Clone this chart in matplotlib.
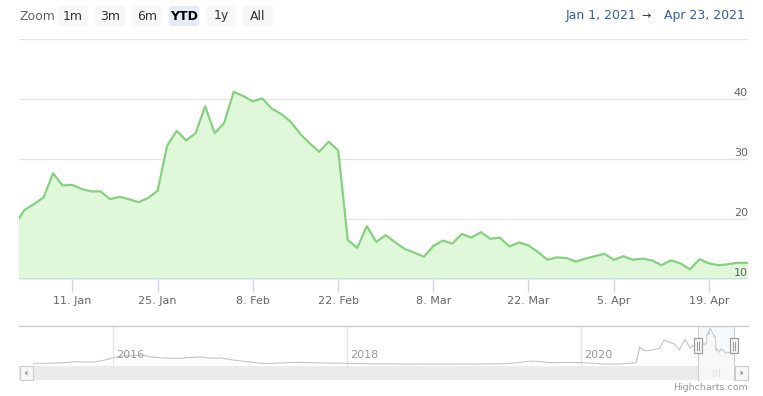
import numpy as np
import pandas as pd
import matplotlib
matplotlib.use("Agg")
import matplotlib.pyplot as plt
from matplotlib.patches import Rectangle, FancyBboxPatch

# daily closes, Dec 31 2020 .. Apr 23 2021 (trading days only)
holidays = ["2021-01-01", "2021-01-18", "2021-02-15", "2021-04-02"]
close = [19.1,
         21.5, 22.5, 23.6, 27.6, 25.6, 25.7, 25.0, 24.6, 24.6, 23.3, 23.7, 23.3, 22.8, 23.5, 24.7,
         32.2, 34.7, 33.1, 34.3, 38.8, 34.3, 36.0, 41.2, 40.5, 39.6, 40.1, 38.4, 37.5, 36.2, 34.2,
         32.6, 31.2, 32.9, 31.4,
         16.5, 15.2, 18.8, 16.2,
         17.3, 16.1, 15.0, 14.4, 13.7, 15.5, 16.4, 15.9, 17.5, 16.9, 17.8, 16.7, 16.9, 15.4, 16.1,
         15.6, 14.5, 13.2, 13.6, 13.5, 12.9, 13.4, 13.8, 14.2, 13.2, 13.8, 13.2, 13.4, 13.1, 12.3,
         13.1, 12.6, 11.6, 13.3, 12.6, 12.3, 12.45, 12.7, 12.7]
tick_dates = ["2021-01-11", "2021-01-25", "2021-02-08", "2021-02-22",
              "2021-03-08", "2021-03-22", "2021-04-05", "2021-04-19"]
y_ticks = [10, 20, 30, 40]

# longer history for the navigator (rough, read off the small strip)
nav_dates = ["2015-04-28", "2015-06-01", "2015-07-01", "2015-08-01", "2015-09-01", "2015-10-01",
             "2015-11-01", "2015-12-01", "2016-01-01", "2016-02-01", "2016-03-01", "2016-04-01",
             "2016-05-01", "2016-06-01", "2016-07-01", "2016-08-01", "2016-09-01", "2016-10-01",
             "2016-11-01", "2016-12-01", "2017-01-01", "2017-02-01", "2017-03-01", "2017-04-01",
             "2017-05-01", "2017-06-01", "2017-07-01", "2017-08-01", "2017-09-01", "2017-10-01",
             "2017-11-01", "2017-12-01", "2018-01-01", "2018-02-01", "2018-03-01", "2018-04-01",
             "2018-05-01", "2018-06-01", "2018-07-01", "2018-08-01", "2018-09-01", "2018-10-01",
             "2018-11-01", "2018-12-01", "2019-01-01", "2019-02-01", "2019-03-01", "2019-04-01",
             "2019-05-01", "2019-06-01", "2019-07-01", "2019-08-01", "2019-09-01", "2019-10-01",
             "2019-11-01", "2019-12-01", "2020-01-01", "2020-02-01", "2020-03-01", "2020-04-01",
             "2020-05-01", "2020-06-01", "2020-06-20", "2020-07-01", "2020-07-15", "2020-08-01",
             "2020-08-15", "2020-09-01", "2020-09-15", "2020-10-01", "2020-10-15", "2020-11-01",
             "2020-11-20", "2020-12-05", "2020-12-15"]
nav_values = [1.3, 1.3, 1.5, 2.0, 3.0, 2.8,
              2.7, 4.5, 7.5, 9.5, 10.0, 10.5,
              8.5, 7.5, 7.0, 7.0, 8.0, 8.5,
              7.0, 7.5, 5.5, 4.0, 3.0, 1.5,
              1.0, 1.5, 2.0, 2.5, 2.0, 1.8,
              1.5, 1.5, 1.3, 1.0, 0.8, 0.8,
              0.6, 0.5, 0.5, 0.4, 0.3, 0.3,
              0.3, 0.2, 0.3, 0.4, 0.5, 0.6,
              0.8, 1.5, 2.7, 3.8, 3.0, 2.0,
              2.2, 2.3, 2.0, 1.5, 0.5, 0.3,
              0.5, 1.5, 2.0, 20.0, 15.6, 16.0,
              17.0, 18.4, 28.0, 25.0, 24.0, 16.5,
              28.7, 18.4, 22.0]

days = pd.bdate_range("2020-12-31", "2021-04-23")
days = days[~days.isin(pd.to_datetime(holidays))]
idx = np.arange(len(days)) - 1          # ordinal axis, Jan 4 = 0

W, H = 763, 396
fig = plt.figure(figsize=(W / 100, H / 100), dpi=100)

def box(x0, y0, x1, y1):
    # pixel box -> figure fraction rect
    return [x0 / W, 1 - y1 / H, (x1 - x0) / W, (y1 - y0) / H]

grid_c = "#e6e6e6"
axis_c = "#ccd6eb"
label_c = "#666666"
line_c = "#86d07f"
fill_c = "#dff8da"

# ---- main chart
ax = fig.add_axes(box(19, 39, 748, 279))
ax.fill_between(idx, close, 0, color=fill_c, lw=0)
ax.plot(idx, close, color=line_c, lw=1.6, solid_joinstyle="round")
ax.set_xlim(-0.58, 76.1)
ax.set_ylim(10, 50)
for v in [10, 20, 30, 40, 50]:
    ax.axhline(v, color=grid_c, lw=1, zorder=0)
ax.axhline(10, color=axis_c, lw=1.2, zorder=3)
for s in ax.spines.values():
    s.set_visible(False)
ax.set_yticks([])
pos = [list(days).index(pd.Timestamp(d)) - 1 for d in tick_dates]
ax.set_xticks(pos)
ax.set_xticklabels([f"{pd.Timestamp(d).day}. {pd.Timestamp(d).strftime('%b')}" for d in tick_dates])
ax.tick_params(axis="x", length=9, width=1, color=axis_c, labelcolor=label_c,
               labelsize=8, pad=3)
for v in y_ticks:
    ax.annotate(str(v), (1, v), xycoords=("axes fraction", "data"), xytext=(0, 0.5),
                textcoords="offset points", ha="right", va="bottom",
                color=label_c, fontsize=8)

# ---- navigator
nav = fig.add_axes(box(33, 326, 734, 366))
nx = list(pd.to_datetime(nav_dates)) + list(days)
ny = nav_values + close
nav.plot(nx, ny, color="#c4c4c4", lw=0.8)
nav.set_xlim(pd.Timestamp("2015-04-27"), pd.Timestamp("2021-04-21"))
nav.set_ylim(-1.8, 43.9)
nav.axis("off")
for yr in ["2016", "2018", "2020"]:
    t = pd.Timestamp(yr + "-01-01")
    nav.axvline(t, color=grid_c, lw=1, zorder=0)
    nav.annotate(yr, (t, 0), xycoords=("data", "axes fraction"), xytext=(2, 4),
                 textcoords="offset points", ha="left", va="bottom",
                 color="#999999", fontsize=8)

# ---- everything else drawn in pixel space
ov = fig.add_axes([0, 0, 1, 1], zorder=5)
ov.set_xlim(0, W)
ov.set_ylim(H, 0)
ov.axis("off")
ov.patch.set_alpha(0)

# navigator frame, mask, handles
ov.plot([19, 748], [326, 326], color="#cccccc", lw=1)
ov.add_patch(Rectangle((698, 326), 36, 40, fc="#e8ebf0", alpha=0.35, lw=0))
# scrollbar
ov.add_patch(Rectangle((19, 366), 729, 14, fc="#ebebeb", lw=0))
ov.add_patch(Rectangle((698, 366), 36, 14, fc="#f7f7f7", lw=0))
for gx in [713, 716, 719]:
    ov.plot([gx, gx], [370, 376], color="#e2e2e2", lw=0.8)
ov.add_patch(Rectangle((19.5, 366), 13.5, 14, fc="#f7f7f7", ec="#cccccc", lw=0.8))
ov.add_patch(Rectangle((735, 366), 13, 14, fc="#f7f7f7", ec="#cccccc", lw=0.8))
ov.fill([27.5, 24.5, 27.5], [370.5, 373, 375.5], color="#999999", lw=0)
ov.fill([740.5, 743.5, 740.5], [370.5, 373, 375.5], color="#999999", lw=0)
for hx in [698, 734]:
    ov.plot([hx, hx], [326, 380], color="#cccccc", lw=0.8)
    ov.add_patch(Rectangle((hx - 3.7, 338), 7.4, 15, fc="#f2f2f2", ec="#999999", lw=0.8, zorder=6))
    ov.plot([hx - 1.2, hx - 1.2], [341.5, 349.5], color="#999999", lw=0.7, zorder=7)
    ov.plot([hx + 1.2, hx + 1.2], [341.5, 349.5], color="#999999", lw=0.7, zorder=7)

# range selector
ov.text(19, 16, "Zoom", ha="left", va="center", color=label_c, fontsize=9)
buttons = ["1m", "3m", "6m", "YTD", "1y", "All"]
for i, b in enumerate(buttons):
    x0 = 57 + 37 * i
    sel = b == "YTD"
    ov.add_patch(FancyBboxPatch((x0 + 1, 6), 30, 20, boxstyle="round,pad=0,rounding_size=2",
                                fc="#e6ebf5" if sel else "#f7f7f7", lw=0))
    ov.text(x0 + 16, 16, b, ha="center", va="center", color="#000000" if sel else "#333333",
            fontsize=9, fontweight="bold" if sel else "normal")

ov.text(601, 16, "Jan 1, 2021", ha="center", va="center", color="#335cad", fontsize=9)
ov.text(646, 16, "\u2192", ha="center", va="center", color="#333333", fontsize=8)
ov.text(704, 16, "Apr 23, 2021", ha="center", va="center", color="#335cad", fontsize=9)

ov.text(748, 387, "Highcharts.com", ha="right", va="center", color="#999999", fontsize=6.8)

fig.savefig("out.png", dpi=100)
